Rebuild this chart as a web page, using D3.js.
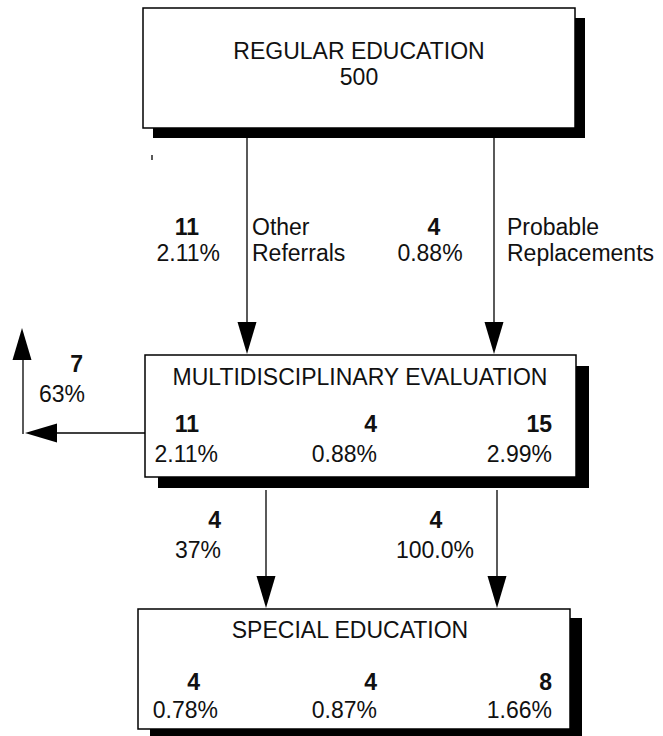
<!DOCTYPE html>
<html>
<head>
<meta charset="utf-8">
<script src="https://cdn.jsdelivr.net/npm/d3@7/dist/d3.min.js"></script>
<style>
  body { margin: 0; background: #fff; }
  svg { display: block; font-family: "Liberation Sans", Arial, sans-serif; }
</style>
</head>
<body>
<div id="chart"></div>
<script>
// ---- data ----
const boxNames = ["REGULAR EDUCATION", "MULTIDISCIPLINARY EVALUATION", "SPECIAL EDUCATION"];
const regularTotal = 500;

const referralLabels = [["Other", "Referrals"], ["Probable", "Replacements"]];
const referralCounts = [11, 4];
const referralPcts = ["2.11%", "0.88%"];

const evalCounts = [11, 4, 15];
const evalPcts = ["2.11%", "0.88%", "2.99%"];

const exitCount = 7;
const exitPct = "63%";

const placedCounts = [4, 4];
const placedPcts = ["37%", "100.0%"];

const specialCounts = [4, 4, 8];
const specialPcts = ["0.78%", "0.87%", "1.66%"];

// ---- layout ----
const width = 663, height = 736;
const fs = 23;

const svg = d3.select("#chart").append("svg")
  .attr("width", width)
  .attr("height", height)
  .attr("viewBox", `0 0 ${width} ${height}`);

const boxes = [
  {x: 143, y: 8,   w: 432, h: 120, dx: 10, dy: 10},
  {x: 145, y: 355, w: 431, h: 122, dx: 13, dy: 11},
  {x: 138, y: 609, w: 432, h: 120, dx: 12, dy: 9}
];

// column positions inside the lower boxes
const pctX = d3.scaleOrdinal().domain([0, 1, 2]).range([218, 377, 552]);
const cntX = d3.scaleOrdinal().domain([0, 1, 2]).range([199, 377, 552]);
// flow arrow columns
const flowX = d3.scaleOrdinal().domain([0, 1]).range([247, 494]);
const flowX2 = d3.scaleOrdinal().domain([0, 1]).range([266, 497]);

// shadows + boxes
svg.selectAll("rect.shadow")
  .data(boxes)
  .join("rect")
  .attr("class", "shadow")
  .attr("x", d => d.x + d.dx)
  .attr("y", d => d.y + d.dy)
  .attr("width", d => d.w)
  .attr("height", d => d.h)
  .attr("fill", "#000");

svg.selectAll("rect.box")
  .data(boxes)
  .join("rect")
  .attr("class", "box")
  .attr("x", d => d.x)
  .attr("y", d => d.y)
  .attr("width", d => d.w)
  .attr("height", d => d.h)
  .attr("fill", "#fff")
  .attr("stroke", "#000")
  .attr("stroke-width", 1.5);

// arrows
const headDown = (x, y) => `M${x - 9.5},${y - 32}L${x + 9.5},${y - 32}L${x},${y}Z`;

function vArrow(x, y0, y1) {
  svg.append("line")
    .attr("x1", x).attr("x2", x)
    .attr("y1", y0).attr("y2", y1 - 30)
    .attr("stroke", "#000").attr("stroke-width", 1.3);
  svg.append("path").attr("d", headDown(x, y1)).attr("fill", "#000");
}

referralCounts.forEach((d, i) => vArrow(flowX(i), 138, 354));
placedCounts.forEach((d, i) => vArrow(flowX2(i), 490, 608));

// exit arrow (left, then up)
svg.append("line")
  .attr("x1", 145).attr("x2", 55)
  .attr("y1", 433).attr("y2", 433)
  .attr("stroke", "#000").attr("stroke-width", 1.3);
svg.append("path")
  .attr("d", "M25,433L57,423.5L57,442.5Z")
  .attr("fill", "#000");
svg.append("line")
  .attr("x1", 23).attr("x2", 23)
  .attr("y1", 434).attr("y2", 358)
  .attr("stroke", "#000").attr("stroke-width", 1.3);
svg.append("path")
  .attr("d", "M22,328L31.5,360L12.5,360Z")
  .attr("fill", "#000");

// small stray tick under the top box
svg.append("line")
  .attr("x1", 152).attr("x2", 152)
  .attr("y1", 155).attr("y2", 160)
  .attr("stroke", "#000").attr("stroke-width", 1.3);

// ---- text ----
function label(x, y, t, anchor, bold) {
  svg.append("text")
    .attr("x", x).attr("y", y)
    .attr("text-anchor", anchor)
    .attr("font-size", fs)
    .attr("font-weight", bold ? "bold" : "normal")
    .attr("fill", "#111")
    .text(t);
}

// top box
label(359, 59, boxNames[0], "middle");
label(359, 85, regularTotal, "middle");

// referral labels
label(199, 235, referralCounts[0], "end", true);
label(220, 261, referralPcts[0], "end");
label(434, 235, referralCounts[1], "middle", true);
label(430, 261, referralPcts[1], "middle");
referralLabels.forEach((lines, i) => {
  const lx = flowX(i) + (i === 0 ? 5 : 13);
  label(lx, 235, lines[0], "start");
  label(lx, 261, lines[1], "start");
});

// middle box
label(360, 385, boxNames[1], "middle");
evalCounts.forEach((d, i) => label(cntX(i), 432, d, "end", true));
evalPcts.forEach((d, i) => label(pctX(i), 462, d, "end"));

// exit label
label(83, 372, exitCount, "end", true);
label(85, 402, exitPct, "end");

// placement labels
label(221, 528, placedCounts[0], "end", true);
label(221, 558, placedPcts[0], "end");
label(436, 528, placedCounts[1], "middle", true);
label(435, 558, placedPcts[1], "middle");

// bottom box
label(350, 638, boxNames[2], "middle");
specialCounts.forEach((d, i) => label(cntX(i) + (i === 0 ? 1 : 0), 690, d, "end", true));
specialPcts.forEach((d, i) => label(pctX(i), 718, d, "end"));
</script>
</body>
</html>
